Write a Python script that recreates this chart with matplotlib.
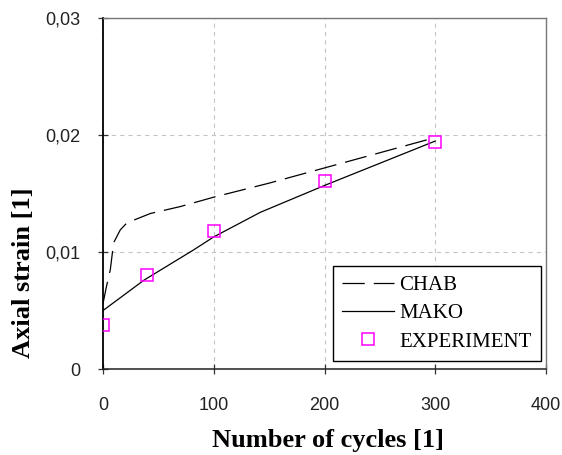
import matplotlib
matplotlib.use("Agg")
import matplotlib.pyplot as plt
from matplotlib.ticker import FixedLocator

# Model curves and measurements
chab_cycles = [0, 3, 6.6, 9.6, 15.6, 21.6, 42.7, 70, 100, 150, 200, 250, 300]
chab_strain = [0.0056, 0.0070, 0.0085, 0.0108, 0.0119, 0.0125, 0.0133, 0.0139,
               0.0147, 0.0159, 0.0172, 0.0185, 0.0198]

mako_cycles = [0, 37, 82, 100, 142, 200, 250, 300]
mako_strain = [0.0050, 0.0076, 0.0102, 0.0113, 0.0134, 0.0157, 0.0176, 0.0195]

exp_cycles = [0, 40, 100, 200, 300]
exp_strain = [0.0038, 0.0080, 0.0118, 0.0161, 0.0194]

x_ticks = [0, 100, 200, 300, 400]
x_tick_labels = ["0", "100", "200", "300", "400"]
y_ticks = [0, 0.01, 0.02, 0.03]
y_tick_labels = ["0", "0,01", "0,02", "0,03"]

plt.rcParams["lines.scale_dashes"] = False

fig = plt.figure(figsize=(5.62, 4.55), dpi=100)
W, H = 562, 455
left, right, top, bottom = 103, 546, 18.3, 369
ax = fig.add_axes([left / W, 1 - bottom / H, (right - left) / W, (bottom - top) / H])

ax.set_xlim(0, 400)
ax.set_ylim(0, 0.03)

ax.plot(chab_cycles, chab_strain, color="black", lw=0.9, dashes=(16, 6.5),
        label="CHAB", zorder=3)
ax.plot(mako_cycles, mako_strain, color="black", lw=0.9, label="MAKO", zorder=3)
ax.plot(exp_cycles, exp_strain, ls="none", marker="s", markersize=9.2,
        markerfacecolor="none", markeredgecolor="#ff00ff", markeredgewidth=1.1,
        label="EXPERIMENT", zorder=4)

ax.xaxis.set_major_locator(FixedLocator(x_ticks))
ax.set_xticklabels(x_tick_labels)
ax.yaxis.set_major_locator(FixedLocator(y_ticks))
ax.set_yticklabels(y_tick_labels)

tick_font = {"family": "Liberation Sans", "size": 13, "color": "#222222"}
for lab in ax.get_xticklabels() + ax.get_yticklabels():
    lab.set_fontfamily(tick_font["family"])
    lab.set_fontsize(tick_font["size"])
    lab.set_color(tick_font["color"])

ax.tick_params(axis="x", direction="inout", length=7, width=0.9, pad=17,
               color="#333333")
ax.tick_params(axis="y", direction="inout", length=7, width=0.9, pad=13,
               color="#333333")

ax.grid(True, color="#c4c4c4", lw=0.8, dashes=(3, 3))
ax.set_axisbelow(True)

ax.spines["left"].set_color("black")
ax.spines["left"].set_linewidth(1.3)
ax.spines["bottom"].set_color("#222222")
ax.spines["bottom"].set_linewidth(1.1)
ax.spines["top"].set_color("#777777")
ax.spines["top"].set_linewidth(1.0)
ax.spines["right"].set_color("#777777")
ax.spines["right"].set_linewidth(1.0)

leg = ax.legend(loc="lower right",
                bbox_to_anchor=((541 - left) / (right - left), (bottom - 361) / (bottom - top)),
                borderaxespad=0, frameon=True, fancybox=False, edgecolor="black",
                prop={"family": "Liberation Serif", "size": 15},
                handlelength=2.5, handletextpad=0.25, labelspacing=0.42,
                borderpad=0.45)
leg.get_frame().set_linewidth(1.0)
leg.get_frame().set_alpha(1)

label_font = {"family": "Liberation Serif", "size": 19, "weight": "bold"}
fig.text(328 / W, 1 - 440 / H, "Number of cycles [1]", ha="center", va="center",
         **label_font)
fig.text(24 / W, 1 - 273 / H, "Axial strain [1]", ha="center", va="center",
         rotation=90, **label_font)

fig.savefig("out.png", dpi=100, facecolor="white")
